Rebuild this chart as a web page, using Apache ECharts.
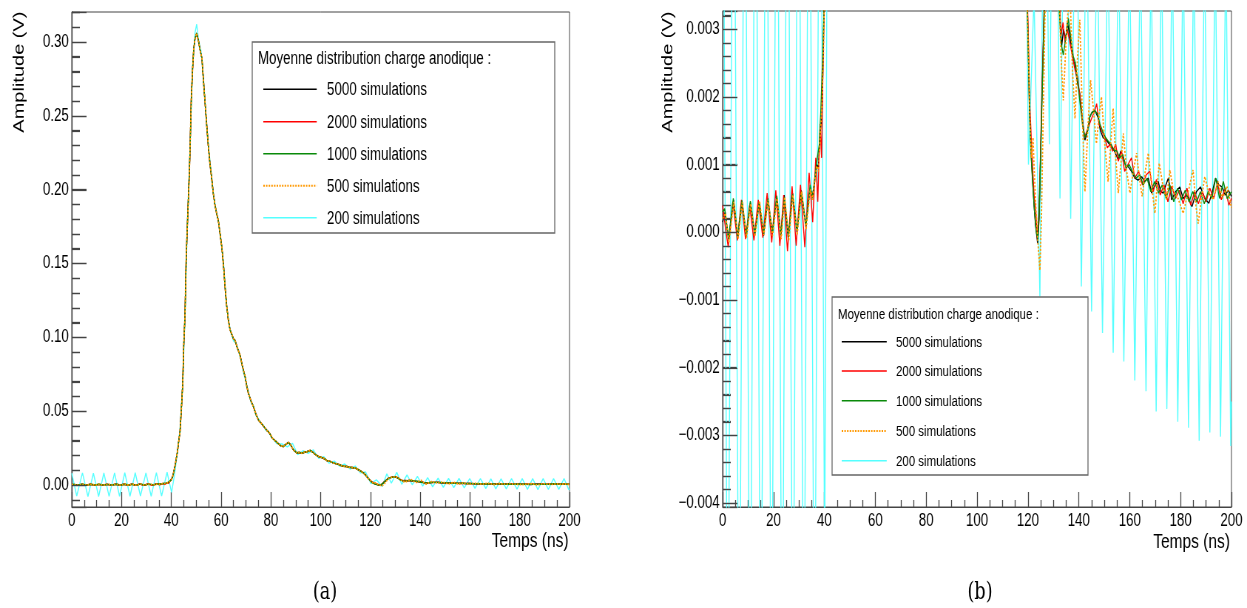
<!DOCTYPE html>
<html>
<head>
<meta charset="utf-8">
<script src="https://cdn.jsdelivr.net/npm/echarts@6/dist/echarts.min.js"></script>
<style>
html,body{margin:0;padding:0;background:#fff;overflow:hidden;}
#chart{width:1686px;height:608px;transform:scaleX(0.739620);transform-origin:0 0;}
</style>
</head>
<body>
<div id="chart"></div>
<script>
// ---------------- DATA (time in ns, amplitude in V) ----------------
const seriesNames = ['5000 simulations','2000 simulations','1000 simulations','500 simulations','200 simulations'];
const legendTitle = 'Moyenne distribution charge anodique :';
const xAxisTitle = 'Temps (ns)';
const yAxisTitle = 'Amplitude (V)';
const panelLabels = ['(a)','(b)'];

// y tick values of both panels
const yMajorA = [0, 0.05, 0.10, 0.15, 0.20, 0.25, 0.30];
const yMajorB = [-0.004, -0.003, -0.002, -0.001, 0, 0.001, 0.002, 0.003];

// baseline before the pulse (0 - 40 ns)
const base5000 = [[0,0.00015],[1.0,0.00030],[2.4,-0.00012],[4.3,0.00048],[6.0,-0.00008],[7.6,0.00046],[9.3,-0.00006],[10.9,0.00044],[12.6,-0.00004],[14.4,0.00045],[16.1,-0.00005],[17.8,0.00050],[19.5,-0.00002],[21.3,0.00052],[22.9,-0.00006],[24.2,0.00055],[25.8,-0.00010],[27.5,0.00058],[29.2,0.00000],[30.9,0.00062],[32.7,0.00008],[34.4,0.00066],[35.2,0.00052],[36.0,0.00070],[37.0,0.00100],[37.6,0.00095],[38.4,0.00150],[39.0,0.00170],[39.5,0.00250],[40.0,0.00350]];
const base2000 = [[0,0.00040],[1.0,0.00010],[2.2,-0.00022],[4.0,0.00045],[5.8,-0.00012],[7.4,0.00048],[9.0,-0.00010],[10.6,0.00040],[12.3,-0.00012],[14.0,0.00048],[15.8,-0.00008],[17.5,0.00058],[19.3,-0.00015],[20.9,0.00062],[22.5,-0.00020],[24.0,0.00055],[25.5,-0.00028],[27.3,0.00068],[28.9,-0.00020],[30.6,0.00070],[32.3,-0.00022],[34.0,0.00088],[35.4,0.00015],[36.6,0.00110],[37.4,0.00045],[38.3,0.00160],[38.9,0.00110],[39.5,0.00270],[40.0,0.00350]];
const base1000 = [[0,0.00030],[0.8,0.00035],[2.3,-0.00010],[4.2,0.00050],[5.9,-0.00006],[7.6,0.00047],[9.3,-0.00004],[10.9,0.00046],[12.7,-0.00002],[14.4,0.00044],[16.1,-0.00003],[17.8,0.00049],[19.6,0.00000],[21.3,0.00054],[22.9,-0.00004],[24.3,0.00052],[25.9,-0.00006],[27.5,0.00056],[29.3,0.00002],[31.0,0.00060],[32.8,0.00010],[34.4,0.00070],[35.3,0.00050],[36.2,0.00080],[37.2,0.00110],[38.0,0.00130],[38.6,0.00180],[39.3,0.00260],[40.0,0.00350]];
const base500 = [[0,0.00020],[1.1,0.00028],[2.5,-0.00015],[4.4,0.00045],[6.1,-0.00010],[7.7,0.00044],[9.4,-0.00008],[11.0,0.00042],[12.7,-0.00006],[14.5,0.00046],[16.2,-0.00004],[17.9,0.00048],[19.6,-0.00005],[21.4,0.00050],[23.0,-0.00010],[24.4,0.00052],[26.0,-0.00012],[27.6,0.00055],[29.3,-0.00004],[31.0,0.00060],[32.8,0.00004],[34.5,0.00064],[35.3,0.00048],[36.1,0.00072],[37.0,0.00098],[37.7,0.00090],[38.5,0.00150],[39.1,0.00190],[39.6,0.00260],[40.0,0.00350]];

// main pulse (40.5 - 119 ns), identical at this scale for 5000/2000/1000/500
const pulseMain = [[40.5,0.0055],[41.0,0.0090],[41.5,0.0130],[42.0,0.0180],[42.5,0.0230],[43.0,0.0300],[43.5,0.0360],[44.0,0.0500],[44.6,0.0690],[45.0,0.0950],[45.5,0.1150],[46.0,0.1550],[46.5,0.1780],[47.0,0.2000],[47.5,0.2250],[48.0,0.2600],[48.5,0.2800],[49.0,0.2950],[49.5,0.3020],[50.2,0.3060],[51.0,0.3000],[51.5,0.2950],[52.3,0.2890],[53.0,0.2720],[53.6,0.2580],[54.3,0.2420],[54.9,0.2290],[55.5,0.2180],[56.2,0.2080],[56.9,0.1970],[57.5,0.1900],[58.2,0.1840],[58.9,0.1790],[59.6,0.1700],[60.3,0.1610],[61.0,0.1480],[61.6,0.1340],[62.2,0.1220],[62.9,0.1120],[63.6,0.1050],[64.3,0.1020],[65.0,0.0990],[65.6,0.0980],[66.5,0.0930],[67.6,0.0880],[68.5,0.0810],[69.7,0.0730],[70.3,0.0670],[71.0,0.0620],[72.0,0.0570],[73.0,0.0530],[74.0,0.0480],[75.0,0.0440],[76.0,0.0420],[77.0,0.0400],[78.4,0.0370],[79.5,0.0350],[80.5,0.0320],[81.7,0.0300],[83.0,0.0280],[84.0,0.0265],[85.0,0.0260],[86.0,0.0275],[87.1,0.0288],[88.0,0.0270],[89.0,0.0240],[90.4,0.0218],[91.5,0.0220],[92.5,0.0215],[93.5,0.0222],[94.5,0.0225],[95.8,0.0235],[96.8,0.0222],[98.0,0.0205],[99.1,0.0193],[100.5,0.0185],[101.5,0.0178],[102.5,0.0165],[103.8,0.0160],[105.0,0.0150],[106.0,0.0145],[107.2,0.0140],[108.2,0.0132],[109.2,0.0127],[110.5,0.0125],[111.5,0.0120],[112.5,0.0118],[113.9,0.0115],[115.0,0.0105],[116.0,0.0095],[117.2,0.0082],[118.2,0.0065],[119.0,0.0048]];

// tails (119.6 - 200 ns)
const tail5000 = [[119.6,0.0036],[120.0,0.0030],[120.6,0.0018],[121.2,0.0012],[121.8,0.0008],[122.4,0.0004],[123.0,0.0001],[123.8,-0.00016],[124.4,0.0002],[125.0,0.0012],[125.6,0.00215],[126.2,0.0030],[126.7,0.0038],[127.3,0.0047],[128.5,0.0052],[130.0,0.0055],[131.0,0.0048],[132.0,0.0036],[133.2,0.00274],[134.0,0.0030],[134.8,0.00285],[135.5,0.0031],[136.5,0.0029],[137.5,0.0026],[138.5,0.00245],[139.5,0.0022],[140.4,0.00205],[141.3,0.0017],[142.4,0.00136],[143.5,0.0015],[144.3,0.0017],[145.0,0.00176],[146.3,0.0018],[147.5,0.0017],[148.5,0.0015],[149.5,0.0014],[150.9,0.00136],[152.0,0.0013],[153.0,0.00125],[154.0,0.0012],[155.5,0.00107],[156.5,0.0012],[157.5,0.0011],[158.5,0.00098],[159.4,0.00097],[160.7,0.0009],[162.0,0.0008],[163.3,0.00077],[164.7,0.00082],[165.9,0.00075],[167.3,0.0008],[168.6,0.00058],[170.0,0.0007],[171.2,0.00075],[172.2,0.0006],[173.2,0.00058],[174.2,0.0007],[175.2,0.0008],[176.5,0.00048],[178.0,0.0006],[179.7,0.00067],[181.0,0.0005],[182.5,0.00055],[184.5,0.00038],[186.2,0.0006],[187.8,0.00067],[189.5,0.0005],[191.1,0.00043],[192.5,0.0006],[193.7,0.0008],[195.0,0.0007],[196.3,0.00067],[197.5,0.00055],[198.8,0.00062],[200.0,0.00053]];
const tail2000 = [[119.6,0.0037],[120.2,0.0028],[120.7,0.0019],[121.3,0.0014],[121.9,0.0009],[122.5,0.0005],[123.1,0.0003],[123.7,-0.0001],[124.3,0.0003],[124.9,0.0011],[125.5,0.0021],[126.1,0.0029],[126.7,0.0039],[127.4,0.0048],[128.6,0.0053],[130.0,0.0056],[131.0,0.0049],[132.0,0.0037],[133.0,0.0029],[133.8,0.0031],[134.6,0.0028],[135.5,0.0030],[136.5,0.0028],[137.5,0.0026],[138.5,0.0024],[139.5,0.0023],[140.4,0.0020],[141.3,0.0017],[142.2,0.0014],[143.2,0.0015],[144.2,0.0016],[145.2,0.0017],[146.3,0.0018],[147.0,0.0019],[148.0,0.0016],[149.0,0.0015],[150.2,0.0014],[151.2,0.00125],[152.3,0.0013],[153.3,0.0012],[154.5,0.0013],[155.5,0.00105],[156.8,0.0012],[158.0,0.0009],[159.3,0.0010],[160.7,0.0011],[162.0,0.0008],[163.5,0.0009],[165.0,0.0007],[166.5,0.00085],[167.9,0.0009],[169.2,0.0006],[170.5,0.00078],[172.0,0.00055],[173.5,0.0007],[175.0,0.00045],[176.5,0.00068],[178.0,0.0005],[179.5,0.00062],[181.0,0.00042],[182.5,0.00065],[184.0,0.0004],[185.5,0.0006],[187.0,0.00042],[188.5,0.0006],[190.0,0.00045],[191.5,0.00065],[193.0,0.0005],[194.5,0.00072],[196.0,0.00048],[197.5,0.00065],[199.0,0.0004],[200.0,0.0005]];
const tail1000 = [[119.6,0.0036],[120.1,0.0027],[120.7,0.0017],[121.3,0.0011],[121.9,0.0007],[122.6,0.0003],[123.3,0.0000],[123.9,-0.0001],[124.5,0.0004],[125.1,0.0013],[125.7,0.0022],[126.3,0.0031],[126.8,0.0039],[127.4,0.0047],[128.6,0.0052],[130.0,0.0055],[131.0,0.0047],[132.0,0.0035],[133.0,0.0028],[133.9,0.00262],[135.0,0.0029],[135.9,0.00316],[136.8,0.0029],[137.8,0.0026],[138.7,0.0025],[139.6,0.0022],[140.5,0.0019],[141.4,0.0016],[142.4,0.0014],[143.4,0.0015],[144.3,0.0017],[145.3,0.00178],[146.3,0.0018],[147.3,0.00175],[148.3,0.0016],[149.3,0.0015],[150.5,0.0014],[151.5,0.00135],[152.7,0.0013],[153.7,0.00122],[155.0,0.0012],[156.0,0.0011],[157.3,0.00115],[158.5,0.00095],[159.8,0.0010],[161.0,0.0009],[162.5,0.0008],[164.0,0.00085],[165.3,0.0007],[166.8,0.0008],[168.3,0.0006],[169.8,0.00075],[171.3,0.00058],[172.8,0.0007],[174.3,0.0005],[175.8,0.0007],[177.3,0.00045],[178.8,0.00065],[180.3,0.00048],[181.8,0.00062],[183.3,0.00045],[184.8,0.0006],[186.3,0.00045],[187.8,0.0006],[189.3,0.00042],[190.8,0.0006],[192.3,0.0005],[193.8,0.0008],[195.3,0.0005],[196.8,0.00075],[198.3,0.0005],[200.0,0.0006]];
const tail500 = [[119.6,0.0035],[120.2,0.0026],[120.8,0.0016],[121.4,0.0011],[122.0,0.0014],[122.6,0.0008],[123.2,0.0003],[124.0,-0.0002],[124.7,-0.00056],[125.3,0.0002],[125.9,0.0015],[126.5,0.0028],[127.0,0.0038],[127.6,0.0047],[128.8,0.0053],[130.0,0.0056],[131.0,0.0050],[132.0,0.0038],[133.0,0.0026],[133.9,0.00195],[135.2,0.0030],[136.5,0.0036],[137.5,0.0024],[138.5,0.00168],[139.5,0.0026],[140.4,0.00314],[141.4,0.0017],[142.4,0.0006],[143.5,0.0015],[144.6,0.00225],[145.8,0.0018],[146.9,0.00131],[147.9,0.0017],[148.9,0.0020],[150.2,0.0013],[151.5,0.00075],[152.5,0.0013],[153.5,0.00183],[154.5,0.0011],[155.5,0.00058],[156.5,0.0010],[157.5,0.00146],[158.8,0.0009],[160.1,0.00058],[161.4,0.0009],[162.7,0.00117],[163.8,0.0008],[164.9,0.00053],[166.1,0.0009],[167.3,0.00117],[168.6,0.0007],[169.9,0.00028],[170.8,0.0007],[171.6,0.00102],[173.0,0.0007],[174.5,0.00048],[175.8,0.00092],[177.2,0.0006],[179.0,0.0005],[181.0,0.00028],[183.0,0.0006],[184.9,0.00092],[186.0,0.0004],[186.9,0.00013],[188.2,0.0005],[189.5,0.00082],[191.0,0.0006],[192.8,0.00048],[194.7,0.00075],[196.5,0.0005],[198.2,0.00068],[200.0,0.00036]];

// 200 simulations (oscillating, whole range)
const sim200 = [[0,0.0080],[2.0,-0.0075],[4.3,0.0082],[6.5,-0.0078],[8.7,0.0080],[10.8,-0.0078],[12.9,0.0081],[15.0,-0.0077],[17.2,0.0082],[19.2,-0.0076],[21.3,0.0083],[23.4,-0.0076],[25.5,0.0083],[27.6,-0.0075],[29.8,0.0082],[31.9,-0.0076],[34.0,0.0083],[36.1,-0.0075],[38.3,0.0086],[40.1,-0.0050],[41.2,0.0060],[42.4,0.0210],[43.5,0.0380],[44.5,0.0660],[45.5,0.1140],[46.5,0.1800],[47.5,0.2260],[48.5,0.2820],[49.5,0.3060],[50.2,0.3120],[51.0,0.3010],[52.0,0.2930],[53.0,0.2730],[54.0,0.2490],[55.0,0.2280],[56.0,0.2120],[57.0,0.1960],[58.0,0.1860],[59.0,0.1780],[60.0,0.1650],[61.0,0.1500],[62.0,0.1250],[63.0,0.1110],[64.0,0.1030],[65.0,0.0975],[66.0,0.0960],[67.0,0.0905],[68.0,0.0850],[69.0,0.0760],[70.0,0.0700],[71.0,0.0630],[72.0,0.0560],[73.0,0.0540],[74.0,0.0470],[75.0,0.0450],[76.0,0.0415],[77.0,0.0405],[78.0,0.0370],[79.0,0.0365],[80.0,0.0330],[82.4,0.0280],[84.5,0.0278],[86.6,0.0258],[88.7,0.0282],[90.8,0.0205],[92.9,0.0232],[95.0,0.0215],[97.1,0.0238],[99.2,0.0180],[101.3,0.0192],[103.4,0.0148],[105.5,0.0162],[107.6,0.0128],[109.7,0.0142],[111.8,0.0108],[113.9,0.0128],[116.0,0.0082],[118.1,0.0088],[120.2,0.0010],[122.4,0.0035],[124.7,-0.00095],[126.6,0.0075],[128.4,0.0013],[130.6,0.0085],[132.6,0.0005],[134.7,0.0068],[136.8,0.0002],[138.9,0.0058],[141.0,-0.0008],[143.0,0.0050],[145.0,-0.00117],[147.2,0.0046],[149.3,-0.00149],[151.4,0.0044],[153.5,-0.00178],[155.6,0.0044],[157.7,-0.00191],[159.9,0.0043],[162.0,-0.00219],[164.2,0.0043],[166.4,-0.00235],[168.4,0.0042],[170.4,-0.00265],[172.5,0.0042],[174.6,-0.00261],[176.7,0.0043],[178.9,-0.0028],[181.0,0.0043],[183.1,-0.00289],[185.2,0.0043],[187.3,-0.00308],[189.4,0.0043],[191.5,-0.00296],[193.6,0.0043],[195.7,-0.00302],[197.8,0.0043],[199.7,-0.00316],[200.0,-0.0025]];

// ---------------- CHART ----------------
const S = 1247 / 1686;              // horizontal compression of the page
const sx = px => px / S;            // screen px -> chart px (layout only)
const FONT = 'Liberation Sans, Arial, sans-serif';

const colors = ['#000000', '#ff0000', '#0a8a0a', '#ff9900', '#55ffff'];
const lineTypes = ['solid', 'solid', 'solid', [2, 1.6], 'solid'];
const lineWidths = [1.4, 1.4, 1.4, 1.8, 1.4];

const data5000 = base5000.concat(pulseMain, tail5000);
const data2000 = base2000.concat(pulseMain, tail2000);
const data1000 = base1000.concat(pulseMain, tail1000);
const data500 = base500.concat(pulseMain, tail500);
const allData = [data5000, data2000, data1000, data500, sim200];

const grids = [
  {left: 97, top: 12, width: 673, height: 495},
  {left: 977, top: 11, width: 688, height: 496}
];
const yRanges = [[-0.0149, 0.3203], [-0.00406, 0.00327]];

function xAxisCfg(i) {
  return {
    gridIndex: i, type: 'value', min: 0, max: 200, interval: 20,
    axisLine: {show: true, onZero: false, lineStyle: {color: '#444', width: 1}},
    axisTick: {show: true, inside: true, length: 15, lineStyle: {color: '#444', width: 1.3}},
    minorTick: {show: true, splitNumber: 4, length: 7, lineStyle: {color: '#444', width: 1.3}},
    splitLine: {show: false},
    axisLabel: {fontFamily: FONT, fontSize: 18, color: '#000', margin: 5}
  };
}
function yAxisCfg(i) {
  const left = i === 0;
  const d = left ? 2 : 3;
  return {
    gridIndex: i, type: 'value',
    min: yRanges[i][0], max: yRanges[i][1],
    splitNumber: 7,
    axisLine: {show: true, onZero: false, lineStyle: {color: '#444', width: 1.3}},
    axisTick: {show: true, inside: true, length: 20, lineStyle: {color: '#444', width: 1.3}},
    minorTick: {show: true, splitNumber: 5, length: 11, lineStyle: {color: '#444', width: 1.3}},
    splitLine: {show: false},
    axisLabel: {
      fontFamily: FONT, fontSize: 18, color: '#000', margin: 4,
      showMinLabel: false, showMaxLabel: false,
      formatter: v => (v < -1e-12 ? '\u2212' : '') + Math.abs(v).toFixed(d)
    }
  };
}

const series = [];
[0, 1].forEach(p => {
  [4, 0, 1, 2, 3].forEach(k => {
    series.push({
      name: seriesNames[k], type: 'line', xAxisIndex: p, yAxisIndex: p,
      data: allData[k], showSymbol: false, symbol: 'none', clip: true,
      silent: true, animation: false,
      lineStyle: {color: colors[k], width: lineWidths[k], type: lineTypes[k]}
    });
  });
});

function legendGraphic(box, fontSize) {
  const els = [{
    type: 'rect', z: 100,
    shape: {x: box.x, y: box.y, width: box.w, height: box.h},
    style: {fill: '#fff', stroke: '#666', lineWidth: 1.3}
  }, {
    type: 'text', z: 101, x: box.hx, y: box.hy,
    style: {text: legendTitle, font: fontSize + 'px ' + FONT, fill: '#000', verticalAlign: 'middle', align: 'left'}
  }];
  seriesNames.forEach((n, k) => {
    const y = box.rows[k];
    const st = {stroke: colors[k], lineWidth: lineWidths[k] + 0.2};
    if (Array.isArray(lineTypes[k])) st.lineDash = lineTypes[k].slice();
    els.push({type: 'line', z: 101, shape: {x1: box.l1, y1: y, x2: box.l2, y2: y}, style: st});
    els.push({
      type: 'text', z: 101, x: box.tx, y: y + 1,
      style: {text: n, font: fontSize + 'px ' + FONT, fill: '#000', verticalAlign: 'middle', align: 'left'}
    });
  });
  return els;
}

const legendA = legendGraphic({
  x: Math.round(sx(252.3)), y: 42, w: Math.round(sx(555) - sx(252.3)), h: 191,
  hx: sx(258), hy: 59.5, l1: sx(263.3), l2: sx(316.7), tx: sx(327),
  rows: [89.3, 121.7, 153.7, 185.7, 217.7]
}, 18);
const legendB = legendGraphic({
  x: Math.round(sx(832.3)), y: 297, w: Math.round(sx(1088.3) - sx(832.3)), h: 178,
  hx: sx(838), hy: 315, l1: sx(841.7), l2: sx(886.7), tx: sx(896),
  rows: [341.7, 371, 400.7, 431, 460.7]
}, 15.5);

const texts = [
  {type: 'text', x: sx(19.5), y: 11.5, rotation: Math.PI / 2,
   style: {text: yAxisTitle, font: '20px ' + FONT, fill: '#000', align: 'right', verticalAlign: 'middle'}},
  {type: 'text', x: sx(668), y: 11.5, rotation: Math.PI / 2,
   style: {text: yAxisTitle, font: '20px ' + FONT, fill: '#000', align: 'right', verticalAlign: 'middle'}},
  {type: 'text', x: sx(568.5), y: 541.5,
   style: {text: xAxisTitle, font: '21px ' + FONT, fill: '#000', align: 'right', verticalAlign: 'middle'}},
  {type: 'text', x: sx(1230), y: 542,
   style: {text: xAxisTitle, font: '21px ' + FONT, fill: '#000', align: 'right', verticalAlign: 'middle'}},
  {type: 'text', x: sx(325), y: 593,
   style: {text: panelLabels[0], font: '24px DejaVu Serif, serif', fill: '#000', align: 'center', verticalAlign: 'middle'}},
  {type: 'text', x: sx(980), y: 593,
   style: {text: panelLabels[1], font: '24px DejaVu Serif, serif', fill: '#000', align: 'center', verticalAlign: 'middle'}}
];

const chart = echarts.init(document.getElementById('chart'), null, {renderer: 'canvas'});
chart.setOption({
  backgroundColor: '#fff',
  animation: false,
  grid: grids.map(g => Object.assign({show: true, borderColor: '#444', borderWidth: 1}, g)),
  xAxis: [xAxisCfg(0), xAxisCfg(1)],
  yAxis: [yAxisCfg(0), yAxisCfg(1)],
  series: series
});

// y-axis tick marks drawn on top, positioned through the axis scale
function yPix(g, v) {
  let p = NaN;
  try { p = chart.convertToPixel({gridIndex: g}, [0, v]); p = Array.isArray(p) ? p[1] : p; } catch (e) { p = NaN; }
  if (!isFinite(p)) {
    const [lo, hi] = yRanges[g];
    p = grids[g].top + (hi - v) / (hi - lo) * grids[g].height;
  }
  return p;
}
const tickEls = [];
[[0, yMajorA, 0.01], [1, yMajorB, 0.0002]].forEach(([g, majors, minorStep]) => {
  const x0 = grids[g].left;
  const [lo, hi] = yRanges[g];
  const addTick = (v, len) => {
    const y = Math.round(yPix(g, v)) + 0.5;
    tickEls.push({type: 'rect', z: 150, silent: true,
      shape: {x: x0, y: y - 0.6, width: len, height: 1.2},
      style: {fill: '#444'}});
  };
  majors.forEach(v => addTick(v, 20));
  const n0 = Math.ceil(lo / minorStep - 1e-9), n1 = Math.floor(hi / minorStep + 1e-9);
  for (let n = n0; n <= n1; n++) {
    const v = n * minorStep;
    if (!majors.some(m => Math.abs(m - v) < minorStep / 10)) addTick(v, 11);
  }
});

chart.setOption({graphic: {elements: legendA.concat(legendB, texts, tickEls)}});
</script>
</body>
</html>
